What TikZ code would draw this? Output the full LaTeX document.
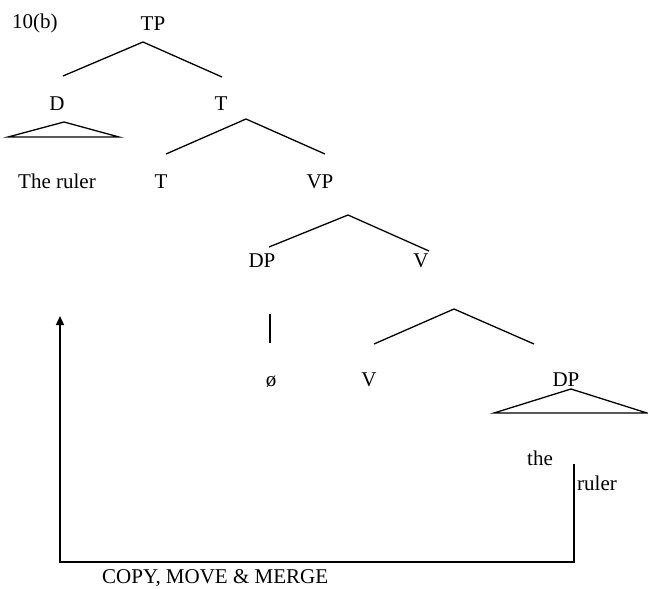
\documentclass[tikz,border=0pt]{standalone}
\usepackage{fontspec}
\setmainfont{Liberation Serif}
\usetikzlibrary{arrows.meta}
\begin{document}
\begin{tikzpicture}[x=1pt,y=-1pt,
  lbl/.style={inner sep=0pt,anchor=base,font=\fontsize{21}{24}\selectfont},
  lblw/.style={lbl,anchor=base west},
  branch/.style={line width=1.3pt},
  movearrow/.style={line width=1.3pt,-{Triangle[length=9pt,width=8pt]}}]
\useasboundingbox (0,0) rectangle (648,589);
% labels
\node[lblw] (num) at (12,28) {10(b)};
\node[lbl] (tp) at (153,30) {TP};
\node[lbl] (d) at (57,110) {D};
\node[lbl] (t1) at (221,110) {T};
\node[lbl] (ruler1) at (57,188) {The ruler};
\node[lbl] (t2) at (161,188) {T};
\node[lbl] (vp) at (320,188) {VP};
\node[lbl] (dp1) at (262,267) {DP};
\node[lbl] (v1) at (421,267) {V};
\node[lbl] (empty) at (271,386) {ø};
\node[lbl] (v2) at (369,386) {V};
\node[lbl] (dp2) at (566,386) {DP};
\node[lbl] (the) at (540,465) {the};
\node[lblw] (ruler2) at (577,490) {ruler};
\node[lblw] (cmm) at (102,583) {COPY, MOVE \& MERGE};
% branch points
\coordinate (tpA) at (143,42); \coordinate (tpL) at (63,76); \coordinate (tpR) at (222,77);
\coordinate (dA) at (64,122); \coordinate (dL) at (8,137); \coordinate (dR) at (119,137);
\coordinate (tA) at (246,119); \coordinate (tL) at (166,154); \coordinate (tR) at (325,154);
\coordinate (vpA) at (348,215); \coordinate (vpL) at (269,247); \coordinate (vpR) at (429,251);
\coordinate (dpT) at (270,314); \coordinate (dpB) at (270,343);
\coordinate (vA) at (454,309); \coordinate (vL) at (374,344); \coordinate (vR) at (534,344);
\coordinate (dp2A) at (571,389); \coordinate (dp2L) at (494,413); \coordinate (dp2R) at (647,413);
\coordinate (mvStart) at (574,464); \coordinate (mvC1) at (574,562);
\coordinate (mvC2) at (60,562); \coordinate (mvEnd) at (60,316);
% branches
\draw[branch] (tpL) -- (tpA) -- (tpR);
\draw[branch] (dL) -- (dA) -- (dR) -- cycle;
\draw[branch] (tL) -- (tA) -- (tR);
\draw[branch] (vpL) -- (vpA) -- (vpR);
\draw[branch] (dpT) -- (dpB);
\draw[branch] (vL) -- (vA) -- (vR);
\draw[branch] (dp2L) -- (dp2A) -- (dp2R) -- cycle;
% movement arrow
\draw[movearrow] (mvStart) -- (mvC1) -- (mvC2) -- (mvEnd);
\end{tikzpicture}
\end{document}
